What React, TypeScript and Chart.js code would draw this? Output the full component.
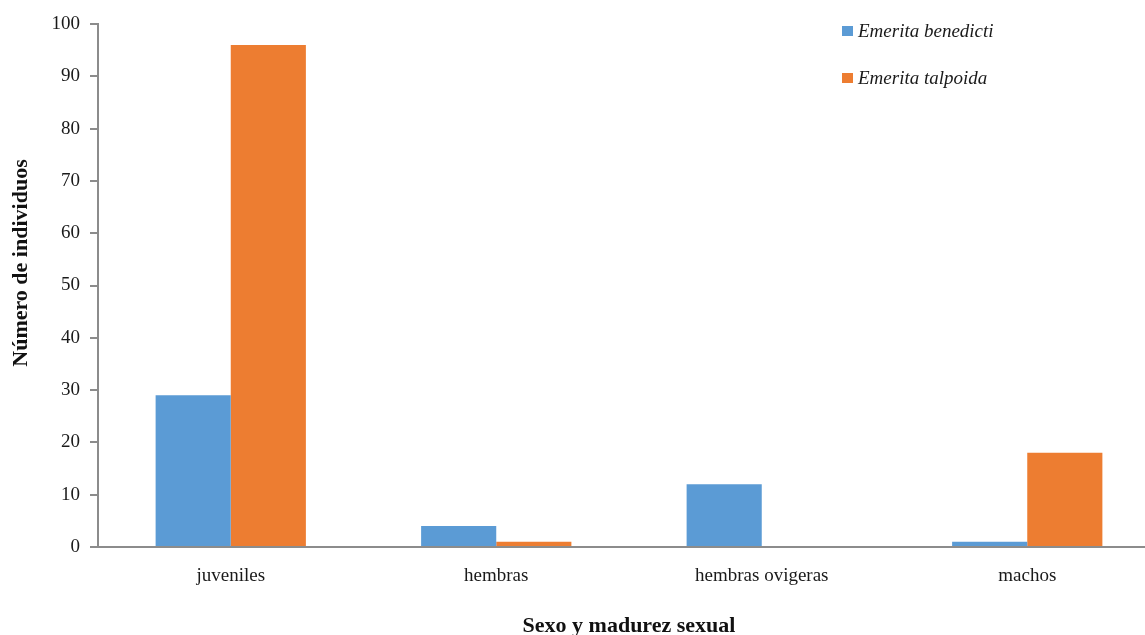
import React, { useEffect, useRef } from "react";
import { Chart, registerables } from "chart.js";

Chart.register(...registerables);

const categories = ["juveniles", "hembras", "hembras ovigeras", "machos"];
const benedicti = [29, 4, 12, 1];
const talpoida = [96, 1, 0, 18];
const seriesNames = ["Emerita benedicti", "Emerita talpoida"];
const seriesColors = ["#5B9BD5", "#ED7D31"];
const yTicksMax = 100;
const yTicksStep = 10;
const yTitle = "Número de individuos";
const xTitle = "Sexo y madurez sexual";

const SERIF = "'Liberation Serif', 'Times New Roman', serif";
const AXIS_GRAY = "#8c8c8c";
const TEXT = "#1a1a1a";

const legendPlugin = {
  id: "customLegend",
  afterDraw(chart: any) {
    const ctx = chart.ctx;
    ctx.save();
    const x = 842;
    const y0 = 31;
    const gap = 47;
    chart.data.datasets.forEach((ds: any, i: number) => {
      const y = y0 + i * gap;
      ctx.fillStyle = ds.backgroundColor;
      ctx.fillRect(x, y - 5, 11, 10);
      ctx.fillStyle = TEXT;
      ctx.font = `italic 19px ${SERIF}`;
      ctx.textBaseline = "middle";
      ctx.textAlign = "left";
      ctx.fillText(ds.label, x + 16, y + 1);
    });
    // y axis title
    ctx.translate(21, 263);
    ctx.rotate(-Math.PI / 2);
    ctx.font = `bold 22px ${SERIF}`;
    ctx.fillStyle = "#111";
    ctx.textAlign = "center";
    ctx.textBaseline = "middle";
    ctx.fillText(yTitle, 0, 0);
    ctx.restore();
  },
};

export default function App() {
  const ref = useRef<HTMLCanvasElement | null>(null);
  useEffect(() => {
    if (!ref.current) return;
    const chart = new Chart(ref.current, {
      type: "bar",
      data: {
        labels: categories,
        datasets: [
          { label: seriesNames[0], data: benedicti, backgroundColor: seriesColors[0] },
          { label: seriesNames[1], data: talpoida, backgroundColor: seriesColors[1] },
        ],
      },
      options: {
        responsive: false,
        animation: false,
        layout: { padding: { top: 24, right: 0, left: 0, bottom: 0 } },
        datasets: { bar: { categoryPercentage: 0.566, barPercentage: 1 } },
        plugins: { legend: { display: false }, tooltip: { enabled: false } },
        scales: {
          x: {
            grid: { display: false, drawTicks: false },
            border: { display: true, color: AXIS_GRAY, width: 2 },
            ticks: { color: TEXT, font: { family: SERIF, size: 19 }, padding: 18, maxRotation: 0, autoSkip: false },
            title: {
              display: true,
              text: xTitle,
              color: "#111",
              font: { family: SERIF, size: 22, weight: "bold" },
              padding: { top: 0, bottom: -5 },
            },
            afterFit: (s: any) => { s.height = 88; },
          },
          y: {
            min: 0,
            max: yTicksMax,
            ticks: { stepSize: yTicksStep, color: TEXT, font: { family: SERIF, size: 19 }, padding: 10 },
            grid: { drawOnChartArea: false, drawTicks: true, tickLength: 8, color: AXIS_GRAY, lineWidth: 2 },
            border: { display: true, color: AXIS_GRAY, width: 2 },
            afterFit: (s: any) => { s.width = 98; },
          },
        },
      },
      plugins: [legendPlugin],
    });
    return () => chart.destroy();
  }, []);
  return (
    <div style={{ position: "fixed", left: 0, top: 0, width: 1145, height: 635, overflow: "hidden", background: "#fff" }}>
      <canvas ref={ref} width={1160} height={635} style={{ display: "block" }} />
    </div>
  );
}
